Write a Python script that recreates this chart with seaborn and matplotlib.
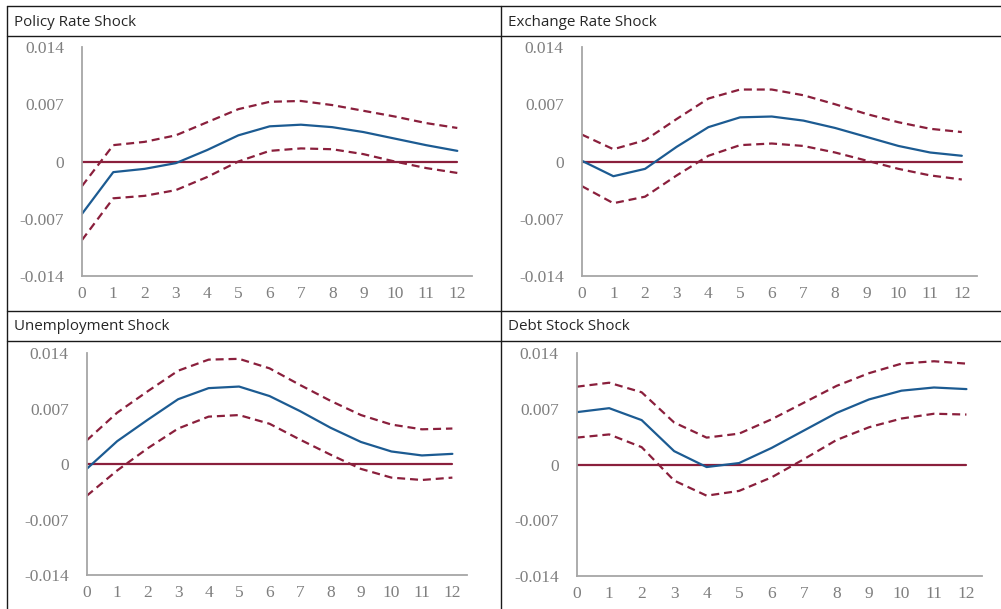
import numpy as np
import pandas as pd
import matplotlib
matplotlib.use("Agg")
import matplotlib.pyplot as plt
from matplotlib.lines import Line2D
import seaborn as sns

# Impulse responses over a 12-period horizon: point estimate and confidence bands
horizon = list(range(13))

policy_mid = [-0.0064, -0.0013, -0.0009, -0.0002, 0.0014, 0.0032, 0.0043, 0.0045,
              0.0042, 0.0036, 0.0028, 0.0020, 0.0013]
policy_up = [-0.0030, 0.0020, 0.0024, 0.0032, 0.0048, 0.0064, 0.0073, 0.0074,
             0.0069, 0.0062, 0.0055, 0.0047, 0.0041]
policy_lo = [-0.0096, -0.0045, -0.0042, -0.0035, -0.0019, 0.0000, 0.0013, 0.0016,
             0.0015, 0.0009, 0.0000, -0.0008, -0.0014]

fx_mid = [0.0001, -0.0018, -0.0009, 0.0018, 0.0042, 0.0054, 0.0055, 0.0050,
          0.0041, 0.0030, 0.0019, 0.0011, 0.0007]
fx_up = [0.0033, 0.0015, 0.0026, 0.0052, 0.0077, 0.0088, 0.0088, 0.0081,
         0.0070, 0.0058, 0.0048, 0.0040, 0.0036]
fx_lo = [-0.0030, -0.0051, -0.0043, -0.0017, 0.0007, 0.0020, 0.0022, 0.0019,
         0.0011, 0.0001, -0.0009, -0.0017, -0.0022]

unemp_mid = [-0.0006, 0.0029, 0.0056, 0.0082, 0.0096, 0.0098, 0.0086, 0.0067,
             0.0046, 0.0028, 0.0016, 0.0011, 0.0013]
unemp_up = [0.0030, 0.0065, 0.0092, 0.0118, 0.0132, 0.0133, 0.0121, 0.0100,
            0.0080, 0.0062, 0.0050, 0.0044, 0.0045]
unemp_lo = [-0.0040, -0.0008, 0.0020, 0.0045, 0.0060, 0.0062, 0.0051, 0.0031,
            0.0012, -0.0006, -0.0017, -0.0020, -0.0017]

debt_mid = [0.0066, 0.0071, 0.0056, 0.0017, -0.0003, 0.0002, 0.0021, 0.0043,
            0.0065, 0.0082, 0.0093, 0.0097, 0.0095]
debt_up = [0.0098, 0.0103, 0.0091, 0.0053, 0.0034, 0.0039, 0.0057, 0.0078,
           0.0099, 0.0115, 0.0127, 0.0130, 0.0127]
debt_lo = [0.0034, 0.0038, 0.0022, -0.0020, -0.0039, -0.0033, -0.0016, 0.0007,
           0.0031, 0.0047, 0.0058, 0.0064, 0.0063]

panel_titles = ["Policy Rate Shock", "Exchange Rate Shock",
                "Unemployment Shock", "Debt Stock Shock"]
y_ticks = [-0.014, -0.007, 0.0, 0.007, 0.014]
y_tick_labels = ["-0.014", "-0.007", "0", "0.007", "0.014"]

panels = [
    (policy_mid, policy_up, policy_lo),
    (fx_mid, fx_up, fx_lo),
    (unemp_mid, unemp_up, unemp_lo),
    (debt_mid, debt_up, debt_lo),
]

sns.set_style("white")
# axis numbers use a Times-like serif face
plt.rcParams["font.family"] = ["Liberation Serif", "DejaVu Serif"]

W, H = 1001, 609
fig = plt.figure(figsize=(W / 100, H / 100), dpi=100)
fig.patch.set_facecolor("white")

BLUE = "#1c5b92"
RED = "#8a1f3c"
SPINE = "#a6a6a6"
TICK_COLOR = "#7f7f7f"
TITLE_COLOR = "#262626"
GRID_COLOR = "#1a1a1a"

# axes boxes in pixels: left, top, right, bottom
boxes = [
    (82.0, 47.0, 472.0, 276.0),
    (581.7, 47.0, 976.7, 276.0),
    (86.7, 353.3, 466.7, 575.0),
    (576.7, 353.3, 981.7, 576.0),
]
title_pos = [(14, 22), (508, 22), (14, 327), (508, 327)]

for (mid, up, lo), (l, t, r, b), title, (tx, ty) in zip(panels, boxes, panel_titles, title_pos):
    ax = fig.add_axes([l / W, 1 - b / H, (r - l) / W, (b - t) / H])
    df = pd.DataFrame({"h": horizon, "mid": mid, "up": up, "lo": lo,
                       "zero": [0.0] * len(horizon)})
    sns.lineplot(data=df, x="h", y="zero", ax=ax, color=RED, linewidth=1.6)
    sns.lineplot(data=df, x="h", y="up", ax=ax, color=RED, linewidth=1.6,
                 dashes=False, linestyle=(0, (3.6, 2.2)))
    sns.lineplot(data=df, x="h", y="lo", ax=ax, color=RED, linewidth=1.6,
                 dashes=False, linestyle=(0, (3.6, 2.2)))
    sns.lineplot(data=df, x="h", y="mid", ax=ax, color=BLUE, linewidth=1.6)

    ax.set_xlim(0, 12.47)
    ax.set_ylim(-0.014, 0.014)
    ax.set_xticks(horizon)
    ax.set_xticklabels([str(h) for h in horizon])
    ax.set_yticks(y_ticks)
    ax.set_yticklabels(y_tick_labels)
    ax.set_xlabel("")
    ax.set_ylabel("")
    for side in ["top", "right"]:
        ax.spines[side].set_visible(False)
    for side in ["left", "bottom"]:
        ax.spines[side].set_color(SPINE)
        ax.spines[side].set_linewidth(1.3)
    ax.tick_params(axis="both", length=0, colors=TICK_COLOR, labelsize=12.5)
    ax.tick_params(axis="y", pad=13)
    ax.tick_params(axis="x", pad=7)
    ax.patch.set_alpha(0)

    fig.text(tx / W, 1 - ty / H, title, fontsize=10.9, fontfamily=["Open Sans"],
             color=TITLE_COLOR, ha="left", va="center")

# table-style frame around the four panels
for y in [6, 36, 311, 340.5]:
    fig.add_artist(Line2D([7 / W, 1.0], [1 - y / H, 1 - y / H],
                          color=GRID_COLOR, linewidth=1.0))
for x in [7, 501.5]:
    fig.add_artist(Line2D([x / W, x / W], [1 - 6 / H, 0.0],
                          color=GRID_COLOR, linewidth=1.0))

fig.savefig("out.png", dpi=100, facecolor="white")
